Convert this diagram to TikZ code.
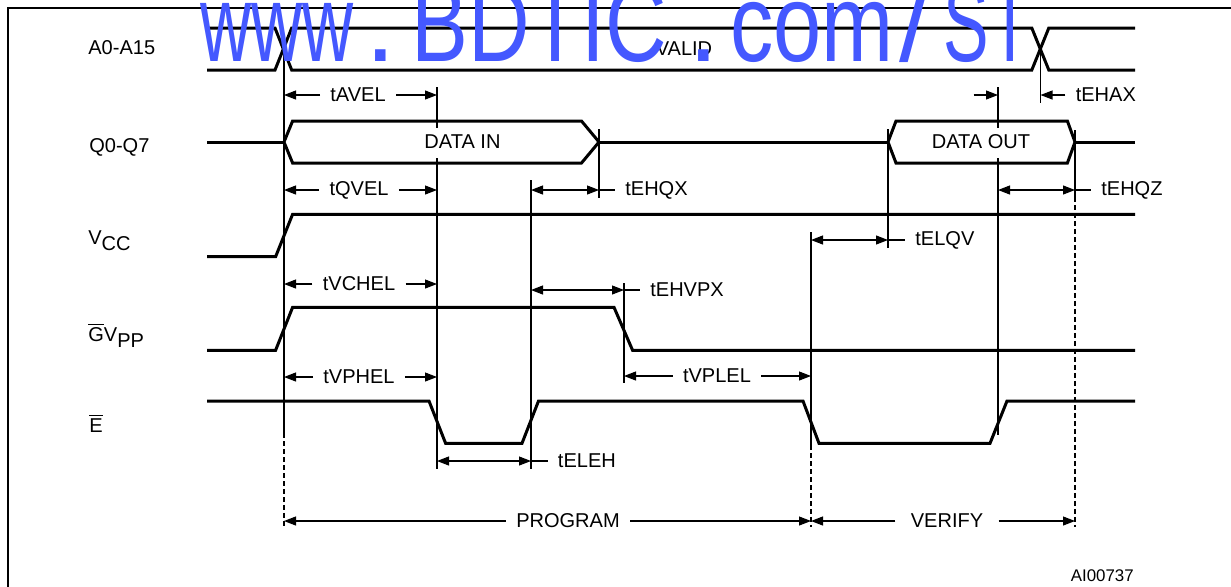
\documentclass[tikz,border=0pt]{standalone}
\usepackage{fontspec}
\setmainfont{Liberation Sans}
\usepackage{graphicx}
\usetikzlibrary{arrows.meta}

\definecolor{wmblue}{RGB}{68,88,255}

\tikzset{
  sig/.style={line width=0.06cm},
  guide/.style={line width=0.6pt},
  cut/.style={guide, dash pattern=on 0.1cm off 0.06cm},
  dim/.style={guide, -{Triangle[length=0.24cm,width=0.18cm]}},
  dimb/.style={guide, {Triangle[length=0.24cm,width=0.18cm]}-{Triangle[length=0.24cm,width=0.18cm]}},
  lbl/.style={inner xsep=0.2cm, inner ysep=1pt, font=\fontsize{11.4pt}{13pt}\selectfont},
  sname/.style={anchor=base west, inner sep=0pt, font=\fontsize{11.4pt}{13pt}\selectfont},
  wm/.style={anchor=base west, inner sep=0pt, text=wmblue, font=\fontsize{62.6pt}{70pt}\selectfont},
}

\begin{document}
\begin{tikzpicture}[x=0.02cm, y=-0.02cm]
\useasboundingbox (0,0) rectangle (1231,586);
\clip (0,0) rectangle (1231,586);

% time marks
\def\xa{207}
\def\xb{284}
\def\xc{437}
\def\xd{531}
\def\xe{599}
\def\xf{624}
\def\xg{811}
\def\xh{888}
\def\xi{998}
\def\xj{1040.5}
\def\xk{1075}
\def\xl{1135}

% levels
\def\ya{28}
\def\yb{70}
\def\yc{121}
\def\yd{142}
\def\ye{163}
\def\yf{214.3}
\def\yg{256.7}
\def\yh{307.3}
\def\yi{350.3}
\def\yj{401}
\def\yk{443.3}

\draw[line width=0.05cm] (8,600) -- (8,8) -- (1240,8);

% signal names
\node[sname] (a) at (88,54) {A0-A15};
\node[sname] (q) at (89,152) {Q0-Q7};
\node[sname] (vcc) at (88,244) {V\raisebox{-0.12cm}{CC}};
\node[sname] (vpp) at (88,341) {$\overline{\mbox{G}}$V\raisebox{-0.12cm}{PP}};
\node[sname] (e) at (89,432) {$\overline{\mbox{E}}$};

% traces
\draw[sig] (\xa,\ya) -- (275,\ya) -- (291.7,\yb) -- (1031.8,\yb) -- (1048.8,\ya) -- (\xl,\ya);
\draw[sig] (\xa,\yb) -- (275,\yb) -- (291.7,\ya) -- (1031.8,\ya) -- (1048.8,\yb) -- (\xl,\yb);
\node[lbl] (valid) at (684,49) {VALID};

\draw[sig] (\xa,\yd) -- (\xb,\yd);
\draw[sig] (\xb,\yd) -- (292.6,\yc) -- (581.5,\yc) -- (\xe,\yd) -- (581.5,\ye) -- (292.6,\ye) -- cycle;
\draw[sig] (\xe,\yd) -- (\xh,\yd);
\draw[sig] (\xh,\yd) -- (896,\yc) -- (1067.4,\yc) -- (\xk,\yd) -- (1067.4,\ye) -- (896,\ye) -- cycle;
\draw[sig] (\xk,\yd) -- (\xl,\yd);
\node[lbl] (din) at (462.5,142) {DATA IN};
\node[lbl] (dout) at (981,142) {DATA OUT};

\draw[sig] (\xa,\yg) -- (275.6,\yg) -- (292.6,\yf) -- (\xl,\yf);
\draw[sig] (\xa,\yi) -- (275.6,\yi) -- (292.6,\yh) -- (614,\yh) -- (632.6,\yi) -- (\xl,\yi);
\draw[sig] (\xa,\yj) -- (429,\yj) -- (445.6,\yk) -- (522,\yk) -- (538.5,\yj) -- (803,\yj)
  -- (819,\yk) -- (990,\yk) -- (1007,\yj) -- (\xl,\yj);

% guide lines
\draw[guide] (\xb,49) -- (\xb,433);
\draw[cut] (\xb,433) -- (\xb,527);
\draw[guide] (\xc,87) -- (\xc,128);
\draw[guide] (\xc,158) -- (\xc,469);
\draw[guide] (\xd,180) -- (\xd,469);
\draw[guide] (\xe,129) -- (\xe,198);
\draw[guide] (\xf,283) -- (\xf,383);
\draw[guide] (\xg,232) -- (\xg,445);
\draw[cut] (\xg,445) -- (\xg,527);
\draw[guide] (\xh,129) -- (\xh,248);
\draw[guide] (\xi,87) -- (\xi,128);
\draw[guide] (\xi,158) -- (\xi,435);
\draw[guide] (\xj,49) -- (\xj,103);
\draw[guide] (\xk,130) -- (\xk,197);
\draw[cut] (\xk,197) -- (\xk,527);

% timings
\coordinate (avel1) at (\xb,95);
\coordinate (avel2) at (\xc,95);
\node[lbl] (avel) at (358,95) {tAVEL};
\draw[dim] (avel) -- (avel1);
\draw[dim] (avel) -- (avel2);

\coordinate (ehax0) at (973.6,95);
\coordinate (ehax1) at (\xi,95);
\coordinate (ehax2) at (\xj,95);
\node[lbl, anchor=west] (ehax) at (1065.4,95) {tEHAX};
\draw[dim] (ehax0) -- (ehax1);
\draw[dim] (ehax.west) -- (ehax2);

\coordinate (qvel1) at (\xb,190);
\coordinate (qvel2) at (\xc,190);
\node[lbl] (qvel) at (359,190) {tQVEL};
\draw[dim] (qvel) -- (qvel1);
\draw[dim] (qvel) -- (qvel2);

\coordinate (ehqx1) at (\xd,190);
\coordinate (ehqx2) at (\xe,190);
\node[lbl, anchor=west] (ehqx) at (615,190) {tEHQX};
\draw[dimb] (ehqx1) -- (ehqx2);
\draw[guide] (ehqx2) -- (ehqx.west);

\coordinate (ehqz1) at (\xi,190);
\coordinate (ehqz2) at (\xk,190);
\node[lbl, anchor=west] (ehqz) at (1091,190) {tEHQZ};
\draw[dimb] (ehqz1) -- (ehqz2);
\draw[guide] (ehqz2) -- (ehqz.west);

\coordinate (elqv1) at (\xg,240);
\coordinate (elqv2) at (\xh,240);
\node[lbl, anchor=west] (elqv) at (905,240) {tELQV};
\draw[dimb] (elqv1) -- (elqv2);
\draw[guide] (elqv2) -- (elqv.west);

\coordinate (vchel1) at (\xb,284);
\coordinate (vchel2) at (\xc,284);
\node[lbl] (vchel) at (359,284) {tVCHEL};
\draw[dim] (vchel) -- (vchel1);
\draw[dim] (vchel) -- (vchel2);

\coordinate (ehvpx1) at (\xd,290);
\coordinate (ehvpx2) at (\xf,290);
\node[lbl, anchor=west] (ehvpx) at (640,290) {tEHVPX};
\draw[dimb] (ehvpx1) -- (ehvpx2);
\draw[guide] (ehvpx2) -- (ehvpx.west);

\coordinate (vphel1) at (\xb,377);
\coordinate (vphel2) at (\xc,377);
\node[lbl] (vphel) at (359,377) {tVPHEL};
\draw[dim] (vphel) -- (vphel1);
\draw[dim] (vphel) -- (vphel2);

\coordinate (vplel1) at (\xf,376);
\coordinate (vplel2) at (\xg,376);
\node[lbl] (vplel) at (717,376) {tVPLEL};
\draw[dim] (vplel) -- (vplel1);
\draw[dim] (vplel) -- (vplel2);

\coordinate (eleh1) at (\xc,461);
\coordinate (eleh2) at (\xd,461);
\node[lbl, anchor=west] (eleh) at (547.6,461) {tELEH};
\draw[dimb] (eleh1) -- (eleh2);
\draw[guide] (eleh2) -- (eleh.west);

\coordinate (prog1) at (\xb,521);
\coordinate (prog2) at (\xg,521);
\node[lbl] (prog) at (568,521) {PROGRAM};
\draw[dim] (prog) -- (prog1);
\draw[dim] (prog) -- (prog2);

\coordinate (ver1) at (\xg,521);
\coordinate (ver2) at (\xk,521);
\node[lbl, inner xsep=0.3cm] (ver) at (947,521) {VERIFY};
\draw[dim] (ver) -- (ver1);
\draw[dim] (ver) -- (ver2);

\node[anchor=base east, inner sep=0pt, font=\fontsize{9.6pt}{11pt}\selectfont] (ref) at (1134,581) {AI00737};

% watermark
\node[wm] (w1) at (200,61.7) {\scalebox{0.643}[1]{www}};
\node[wm] (w2) at (365,61.7) {.};
\node[wm] (w3) at (411,61.7) {\scalebox{0.775}[1]{BDTIC}};
\node[wm] (w4) at (688,61.7) {.};
\node[wm] (w5) at (730,61.7) {\scalebox{0.787}[1]{com}};
\node[wm] (w6) at (899,61.7) {/};
\node[wm] (w7) at (943.5,61.7) {\scalebox{0.62}[1]{ST}};

\end{tikzpicture}
\end{document}
